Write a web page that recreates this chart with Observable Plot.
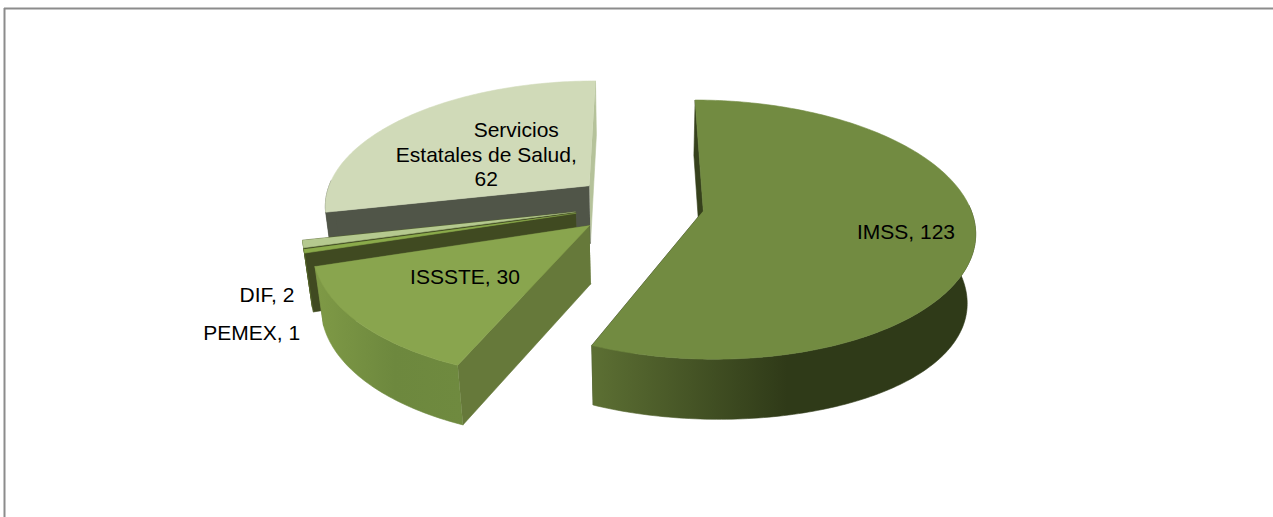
<!DOCTYPE html>
<html><head><meta charset="utf-8">
<style>html,body{margin:0;padding:0;background:#fff}svg{display:block}</style>
<script src="https://cdn.jsdelivr.net/npm/d3@7"></script>
<script src="https://cdn.jsdelivr.net/npm/@observablehq/plot@0.6"></script>
</head><body><div id="chart"></div>
<script>
// data, in pie order (clockwise from 12 o'clock)
const categories = ["IMSS","ISSSTE","PEMEX","DIF","Servicios Estatales de Salud"];
const values = [123,30,1,2,62];
const labels = [["IMSS, 123"],["ISSSTE, 30"],["PEMEX, 1"],["DIF, 2"],["Servicios","Estatales de Salud,","62"]];
const topColors = ["#728b41","#89a54e","#8bab4b","#b5c98f","#d0dab8"];
const startWallColors = ["#36411c","#66793a","#404a21","#3c4520","#505548"];
const endWallColors = ["#36411c","#66793a","#55662c","#55662c","#b5c29a"];
const outerWalls = ["url(#wallA)","url(#wallB)","#55662c","#55662c","#505548"];
const drawOrder = [4,3,2,1,0];

// placement of each label: radius along the slice's middle angle, and a nudge
const labelRadius = [0.75,0.55,1.17,1.12,0.37];
const labelDx = [0,-4,-4,-2,-32];
const labelDy = [2,1,75,47,-4];
const lineDx = [[0],[0],[0],[0],[30,0,0]];   // the wrapped label's first line sits to the right
const lineStep = 24.5;

// 3D view
const W = 1273, H = 517;
const view = {vx:638.5, vy:204, A:266, B:125, k:0.145, explode:0.245, shrink:0.025, drop:58};
function project(X, Y, z) {
  const w = 1 + view.k*Y + view.shrink*z;
  return {
    x: view.vx + view.A*X/w,
    y: view.vy - view.B*Y/w + z*view.drop*(1 - 0.1*Y + 0.13*Math.max(X,0)*Math.max(X,0))
  };
}
const slices = d3.pie().sort(null)(values).map((a,i) => {
  const mid = (a.startAngle + a.endAngle)/2;
  return {i, a0:a.startAngle, a1:a.endAngle, mid, cx:view.explode*Math.sin(mid), cy:view.explode*Math.cos(mid)};
});
const at = (s, ang, r, z) => project(s.cx + r*Math.sin(ang), s.cy + r*Math.cos(ang), z);
const angles = s => {
  const n = Math.max(2, Math.ceil((s.a1-s.a0)/(Math.PI/180)));
  return d3.range(n+1).map(j => s.a0 + (s.a1-s.a0)*j/n);
};
const arc = (s, z) => angles(s).map(a => at(s, a, 1, z));
// only the part of the rim that faces the viewer has a visible outer wall
const frontArc = (s, z) => angles(s).filter(a => Math.cos(a) < 0.05).map(a => at(s, a, 1, z));
const poly = (points, fill) => Plot.line(points, {x:"x", y:"y", fill, stroke:fill, strokeWidth:0.6, curve:"linear"});

const marks = [];
marks.push(() => {
  const defs = d3.create("svg:defs");
  const grad = (id,x1,x2,stops) => {
    const g = defs.append("linearGradient").attr("id",id).attr("gradientUnits","userSpaceOnUse")
      .attr("x1",x1).attr("x2",x2).attr("y1",0).attr("y2",0);
    stops.forEach(([o,c]) => g.append("stop").attr("offset",o).attr("stop-color",c));
  };
  grad("wallA",593,980,[[0,"#5c6f33"],[0.5,"#2f3a18"],[1,"#2f3a18"]]);
  grad("wallB",314,460,[[0,"#7f9a46"],[0.55,"#6d883e"],[1,"#6f8a3f"]]);
  return defs.node();
});
for (const i of drawOrder) {
  const s = slices[i];
  const apex = at(s,0,0,0), apexB = at(s,0,0,1);
  marks.push(poly([apex, at(s,s.a1,1,0), at(s,s.a1,1,1), apexB], endWallColors[i]));
  marks.push(poly([apex, at(s,s.a0,1,0), at(s,s.a0,1,1), apexB], startWallColors[i]));
  marks.push(poly([...frontArc(s,0), ...frontArc(s,1).reverse()], outerWalls[i]));
  marks.push(poly([apex, ...arc(s,0)], topColors[i]));
}
// chart frame
marks.push(Plot.ruleY([8],{x1:4,x2:W,stroke:"#8c8c8c",strokeWidth:2}));
marks.push(Plot.ruleX([4],{y1:8,y2:H,stroke:"#8c8c8c",strokeWidth:2}));
// labels
for (const s of slices) {
  const p = at(s,s.mid,labelRadius[s.i],0);
  const lines = labels[s.i];
  lines.forEach((text,j) => {
    marks.push(Plot.text([{...p,text}],{x:"x",y:"y",text:"text",
      dx:labelDx[s.i]+lineDx[s.i][j],
      dy:labelDy[s.i]+(j-(lines.length-1)/2)*lineStep,
      fill:"#000",textAnchor:"middle",fontSize:21,fontFamily:"'Liberation Sans',Arial,sans-serif",lineAnchor:"middle"}));
  });
}
const chart = Plot.plot({
  width:W, height:H, margin:0,
  style:{background:"#fff"},
  x:{domain:[0,W],range:[0,W],axis:null},
  y:{domain:[0,H],range:[0,H],axis:null},
  marks
});
document.getElementById("chart").append(chart);
</script></body></html>
